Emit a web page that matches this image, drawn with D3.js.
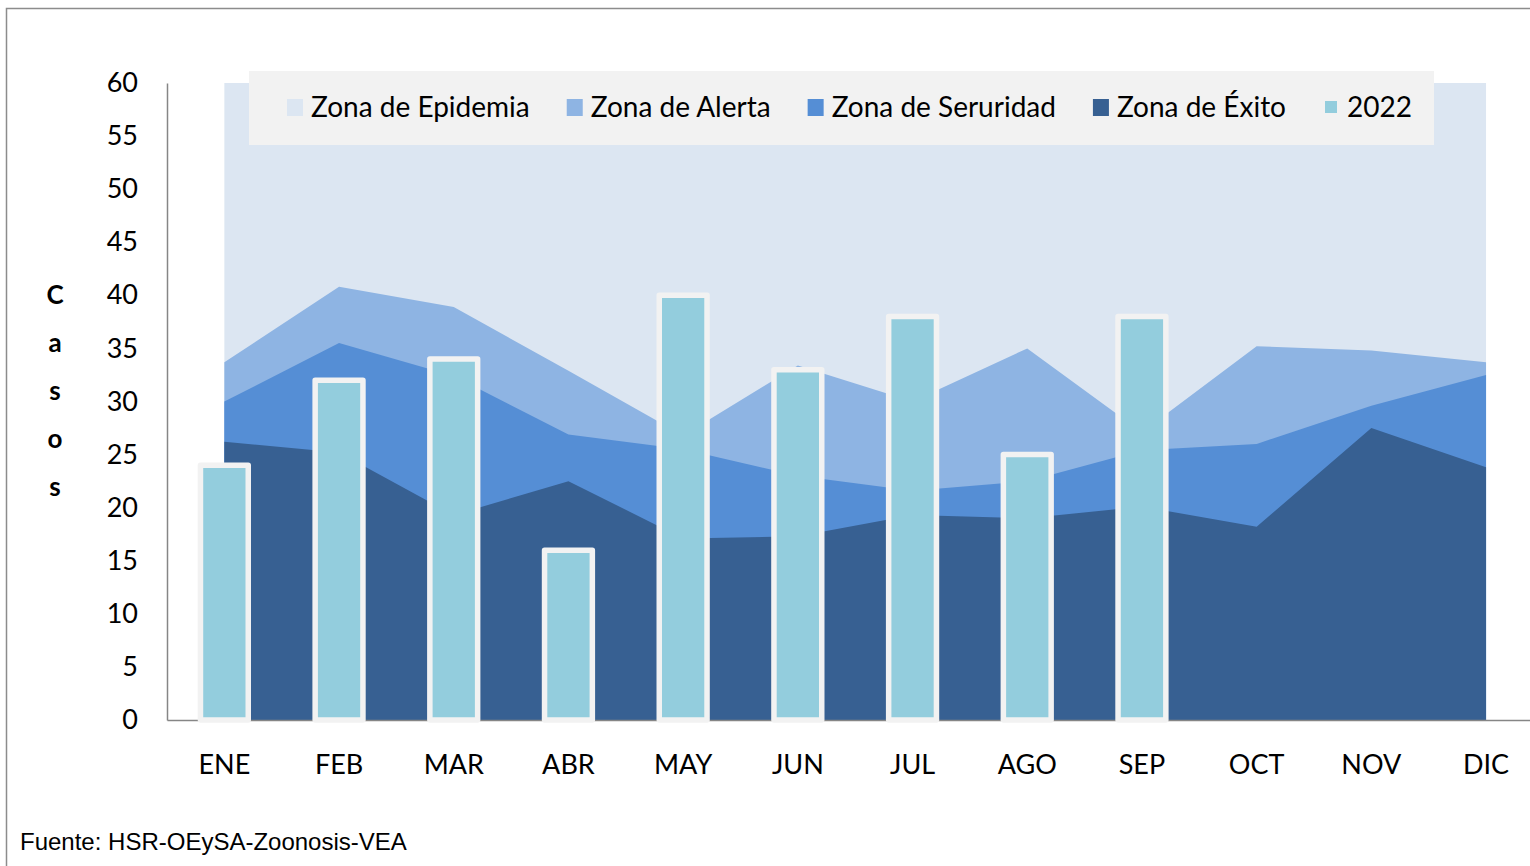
<!DOCTYPE html>
<html>
<head>
<meta charset="utf-8">
<script src="https://cdn.jsdelivr.net/npm/d3@7"></script>
<style>
  body { margin: 0; background: #fff; }
  svg text { font-family: Lato, "Open Sans", sans-serif; fill: #000; }
  .footer { font-family: "Liberation Sans", Arial, sans-serif; }
</style>
</head>
<body>
<div id="graph"></div>
<script>
// Canal endemico - casos por mes

let months = ["ENE", "FEB", "MAR", "ABR", "MAY", "JUN", "JUL", "AGO", "SEP", "OCT", "NOV", "DIC"];

// zonas del canal (cada una se dibuja desde 0)
let epidemia  = [60, 60, 60, 60, 60, 60, 60, 60, 60, 60, 60, 60];
let alerta    = [33.7, 40.8, 38.9, 32.9, 26.8, 33.4, 30.0, 35.0, 27.1, 35.2, 34.8, 33.7];
let seguridad = [30.0, 35.5, 32.4, 26.9, 25.5, 23.0, 21.6, 22.5, 25.4, 26.0, 29.6, 32.5];
let exito     = [26.2, 25.2, 19.3, 22.5, 17.1, 17.3, 19.3, 19.0, 20.1, 18.2, 27.5, 23.8];

// casos 2022 (hasta SEP)
let casos2022 = [24, 32, 34, 16, 40, 33, 38, 25, 38];

let yTicks = [0, 5, 10, 15, 20, 25, 30, 35, 40, 45, 50, 55, 60];

let legendNames = ["Zona de Epidemia", "Zona de Alerta", "Zona de Seruridad", "Zona de Éxito", "2022"];
let colors = ["#DCE6F2", "#8EB4E3", "#558ED5", "#376092", "#93CDDD"];

let svgWidth = 1530;
let svgHeight = 866;

let svg = d3.select("#graph")
  .append("svg")
  .attr("width", svgWidth)
  .attr("height", svgHeight);

// marco del grafico
svg.append("rect")
  .attr("x", 6.5)
  .attr("y", 8.5)
  .attr("width", 1600)
  .attr("height", 1000)
  .attr("fill", "none")
  .attr("stroke", "#8c8c8c")
  .attr("stroke-width", 1.5);

let xScale = d3.scaleBand()
  .domain(months)
  .range([167, 167 + 12 * 114.7])
  .padding(0);

let yScale = d3.scaleLinear()
  .domain([0, 60])
  .range([720, 83]);

let cx = d => xScale(d) + xScale.bandwidth() / 2;

// Areas
let zonas = [epidemia, alerta, seguridad, exito];
let area = d3.area()
  .x((d, i) => cx(months[i]))
  .y0(yScale(0))
  .y1(d => yScale(d));

svg.selectAll("path.zona")
  .data(zonas)
  .enter()
  .append("path")
  .attr("class", "zona")
  .attr("d", d => area(d))
  .attr("fill", (d, i) => colors[i]);

// Axes
let yAxis = d3.axisLeft(yScale).tickValues(yTicks).tickSize(0).tickPadding(29);
let yG = svg.append("g")
  .attr("transform", "translate(167,0)")
  .call(yAxis);
yG.select(".domain").attr("stroke", "#868686").attr("stroke-width", 1.5);
yG.selectAll("text").attr("font-size", "27px").attr("font-family", "Lato");

let xAxis = d3.axisBottom(xScale).tickSize(0).tickPadding(35);
let xG = svg.append("g")
  .attr("transform", "translate(0,720)")
  .call(xAxis);
xG.select(".domain").attr("stroke", "#868686").attr("stroke-width", 1.5);
xG.selectAll("text").attr("font-size", "27px").attr("font-family", "Lato");

// Bars 2022
let barW = xScale.bandwidth() / 2.4;
svg.selectAll("rect.bar")
  .data(casos2022)
  .enter()
  .append("rect")
  .attr("class", "bar")
  .attr("x", (d, i) => cx(months[i]) - barW / 2)
  .attr("y", d => yScale(d))
  .attr("width", barW)
  .attr("height", d => yScale(0) - yScale(d))
  .attr("fill", colors[4])
  .attr("stroke", "#F2F2F2")
  .attr("stroke-width", 5.5)
  .attr("stroke-linejoin", "round");

// Legend
svg.append("rect")
  .attr("x", 249)
  .attr("y", 71)
  .attr("width", 1185)
  .attr("height", 74)
  .attr("fill", "#F2F2F2");

let lx = 287;
legendNames.forEach(function(name, i) {
  let g = svg.append("g").attr("transform", `translate(${lx},0)`);
  if (i == 4) {
    g.append("rect").attr("x", 1).attr("y", 100).attr("width", 14).attr("height", 14)
      .attr("fill", colors[i]).attr("stroke", "#F2F2F2").attr("stroke-width", 2);
  } else {
    g.append("rect").attr("x", 0).attr("y", 99).attr("width", 16).attr("height", 17)
      .attr("fill", colors[i]);
  }
  let t = g.append("text")
    .attr("x", 24)
    .attr("y", 117)
    .attr("font-size", "28px")
    .text(name);
  lx += 24 + t.node().getComputedTextLength() + 37;
});

// Titulo eje Y (vertical, letra por letra)
let yLabel = ["C", "a", "s", "o", "s"];
svg.selectAll("text.ylab")
  .data(yLabel)
  .enter()
  .append("text")
  .attr("class", "ylab")
  .attr("x", 55)
  .attr("y", (d, i) => 304 + i * 48)
  .attr("text-anchor", "middle")
  .attr("font-size", "26px")
  .attr("font-weight", "bold")
  .text(d => d);

svg.append("text")
  .attr("class", "footer")
  .attr("x", 20)
  .attr("y", 850)
  .attr("font-size", "24px")
  .text("Fuente: HSR-OEySA-Zoonosis-VEA");
</script>
</body>
</html>
